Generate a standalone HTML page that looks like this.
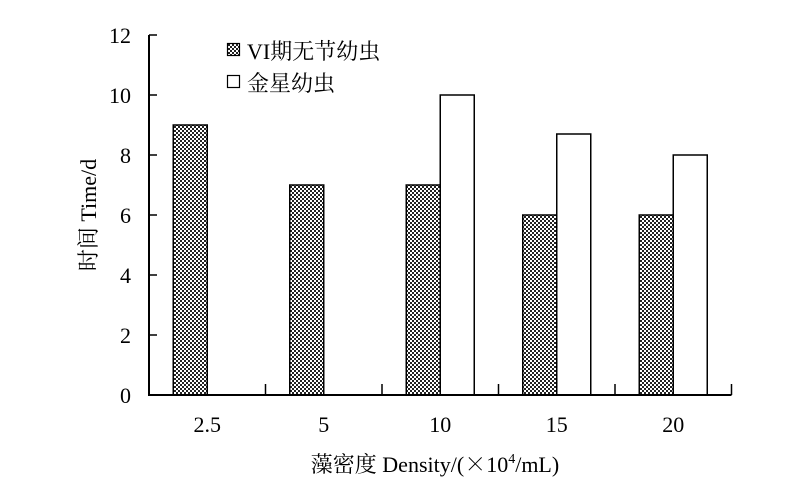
<!DOCTYPE html>
<html><head><meta charset="utf-8"><style>
body{margin:0;background:#fff;}
svg text{font-family:"Liberation Serif","Noto Serif CJK SC",serif;fill:#000;}
</style></head><body>
<svg width="800" height="498" viewBox="0 0 800 498" xmlns="http://www.w3.org/2000/svg">
<defs>
<pattern id="chk" width="4" height="4" patternUnits="userSpaceOnUse">
<rect width="4" height="4" fill="#fff"/>
<rect width="2" height="2" fill="#222"/>
<rect x="2" y="2" width="2" height="2" fill="#222"/>
</pattern>
</defs>
<g id="plot"></g>
<g>
<rect x="227.5" y="43.5" width="12" height="12" fill="url(#chk)" stroke="#000" stroke-width="1.2"/>
<text x="247" y="59" font-size="22">VI期无节幼虫</text>
<rect x="227.5" y="75.5" width="12" height="12" fill="#fff" stroke="#000" stroke-width="1.2"/>
<text x="247" y="91" font-size="22">金星幼虫</text>
</g>
<text transform="translate(96,215) rotate(-90)" text-anchor="middle" font-size="22">时间 Time/d</text>
<text x="435" y="472" text-anchor="middle" font-size="22">藻密度 Density/(<tspan font-family="Noto Serif CJK SC, serif">×</tspan>10<tspan font-size="14" dy="-9">4</tspan><tspan dy="9">/mL)</tspan></text>
</svg>
<script>
const categories=["2.5","5","10","15","20"];
const seriesVI=[9,7,7,6,6];
const seriesJX=[null,null,10,8.7,8];
const yTicks=[0,2,4,6,8,10,12];
const X0=149,CW=116.5,Y0=395,YT=35,YMAX=12,BW=34;
const ns="http://www.w3.org/2000/svg";
const g=document.getElementById('plot');
const y=v=>Y0-(v/YMAX)*(Y0-YT);
const cx=i=>X0+(i+0.5)*CW;
function el(t,a){const e=document.createElementNS(ns,t);for(const k in a)e.setAttribute(k,a[k]);g.appendChild(e);return e;}
seriesVI.forEach((v,i)=>{if(v==null)return;const r=el('rect',{x:cx(i)-BW,y:y(v),width:BW,height:Y0-y(v),fill:'url(#chk)',stroke:'#000','stroke-width':1.5});

});
seriesJX.forEach((v,i)=>{if(v==null)return;const r=el('rect',{x:cx(i),y:y(v),width:BW,height:Y0-y(v),fill:'#fff',stroke:'#000','stroke-width':1.5});

});
const ax=el('path',{d:`M${X0} ${YT}V${Y0}H${X0+5*CW}`,fill:'none',stroke:'#000','stroke-width':2});


yTicks.forEach(t=>{const l=el('line',{x1:X0,x2:X0+8,y1:y(t),y2:y(t),stroke:'#000','stroke-width':1.5});


const tx=el('text',{x:131,y:y(t)+8,'text-anchor':'end','font-size':22});tx.textContent=t;

});
categories.forEach((c,i)=>{const l=el('line',{x1:X0+(i+1)*CW,x2:X0+(i+1)*CW,y1:Y0,y2:Y0-11,stroke:'#000','stroke-width':1.5});


const tx=el('text',{x:cx(i),y:432,'text-anchor':'middle','font-size':22});tx.textContent=c;

});
</script>
</body></html>
